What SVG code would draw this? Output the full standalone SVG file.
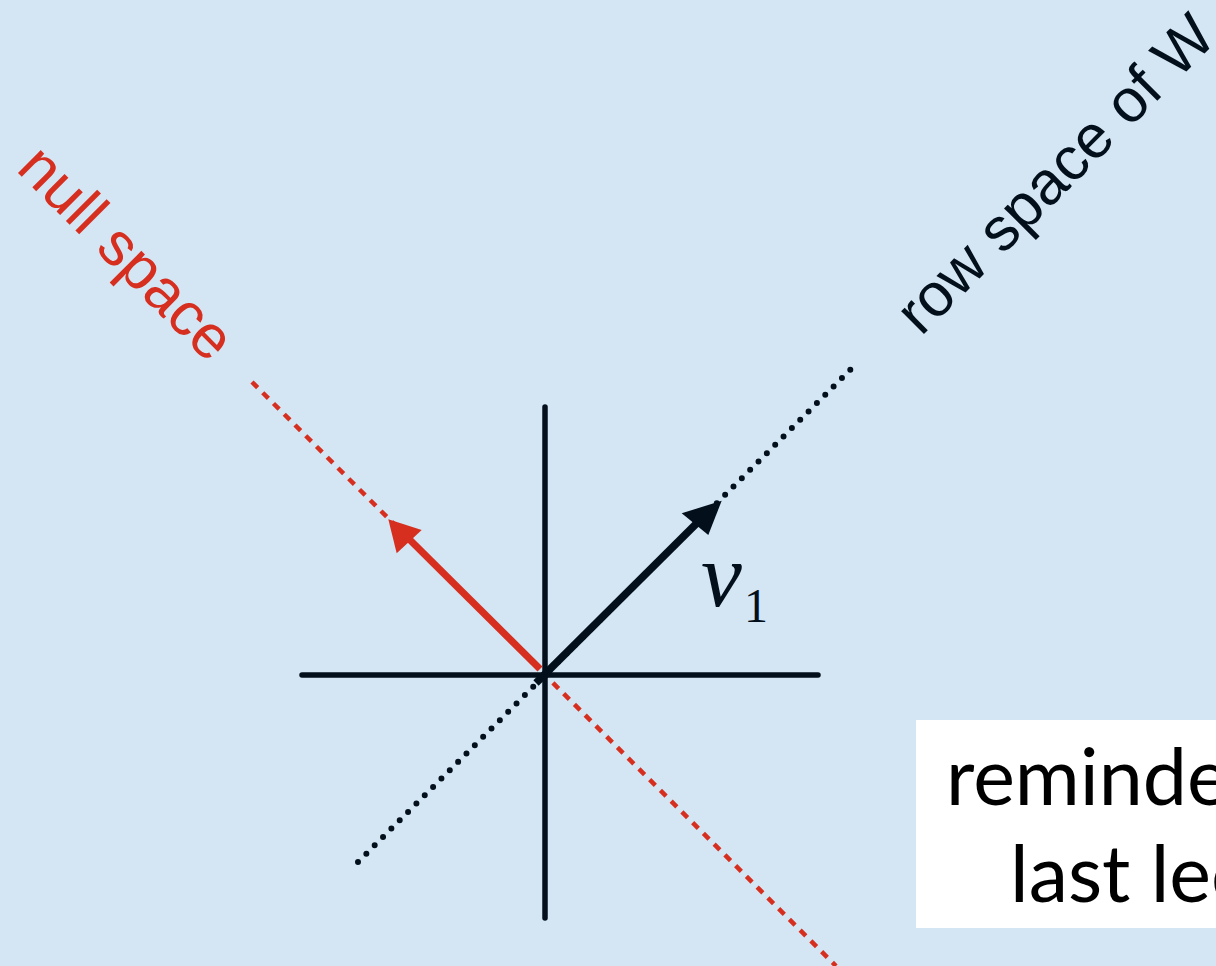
<svg xmlns="http://www.w3.org/2000/svg" width="1216" height="966" viewBox="0 0 1216 966">
  <style>
    .axis { stroke: #03101c; stroke-width: 5.5; stroke-linecap: round; fill: none; }
    .dots { stroke: #03101c; stroke-width: 6; stroke-linecap: round; stroke-dasharray: 0 11.8; fill: none; }
    .dash { stroke: #d62f1f; stroke-width: 4.5; stroke-dasharray: 8 7.2; fill: none; }
    .label { font-family: "Liberation Sans", Arial, sans-serif; font-size: 61px; }
    .math { font-family: "Liberation Serif", "Times New Roman", serif; fill: #03101c; }
    .box { font-family: Lato, "Open Sans", sans-serif; font-size: 79px; fill: #000; }
  </style>
  <rect x="0" y="0" width="1216" height="966" fill="#d4e6f4"/>
  <g id="connectors">
    <line class="dash" x1="252" y1="382" x2="836" y2="966"/>
    <line class="dots" x1="358" y1="862" x2="858" y2="362"/>
    <line class="axis" x1="302" y1="675" x2="818" y2="675"/>
    <line class="axis" x1="545" y1="407" x2="545" y2="918"/>
    <line x1="540" y1="669" x2="406" y2="536" stroke="#d62f1f" stroke-width="7"/>
    <polygon points="388.3,519.3 396.7,553.3 421.7,530" fill="#d62f1f"/>
    <line x1="536" y1="683" x2="700" y2="520" stroke="#03101c" stroke-width="7.5"/>
    <polygon points="721.7,500.7 681.7,513.3 708.3,535" fill="#03101c"/>
  </g>
  <g id="null-space-label">
    <text class="label" fill="#d62f1f" transform="translate(15,170) rotate(45)">null space</text>
  </g>
  <g id="row-space-label">
    <text class="label" fill="#03101c" transform="translate(921,337) rotate(-45)">row space of W</text>
  </g>
  <g id="v1-label">
    <text class="math" x="701" y="606" font-size="92" font-style="italic">v</text>
    <text class="math" x="744" y="622" font-size="48">1</text>
  </g>
  <g id="reminder-box">
    <rect x="916" y="720" width="310" height="208" fill="#ffffff"/>
    <text class="box" x="946" y="805">reminde</text>
    <text class="box" x="1010" y="902">last lec</text>
  </g>
</svg>
